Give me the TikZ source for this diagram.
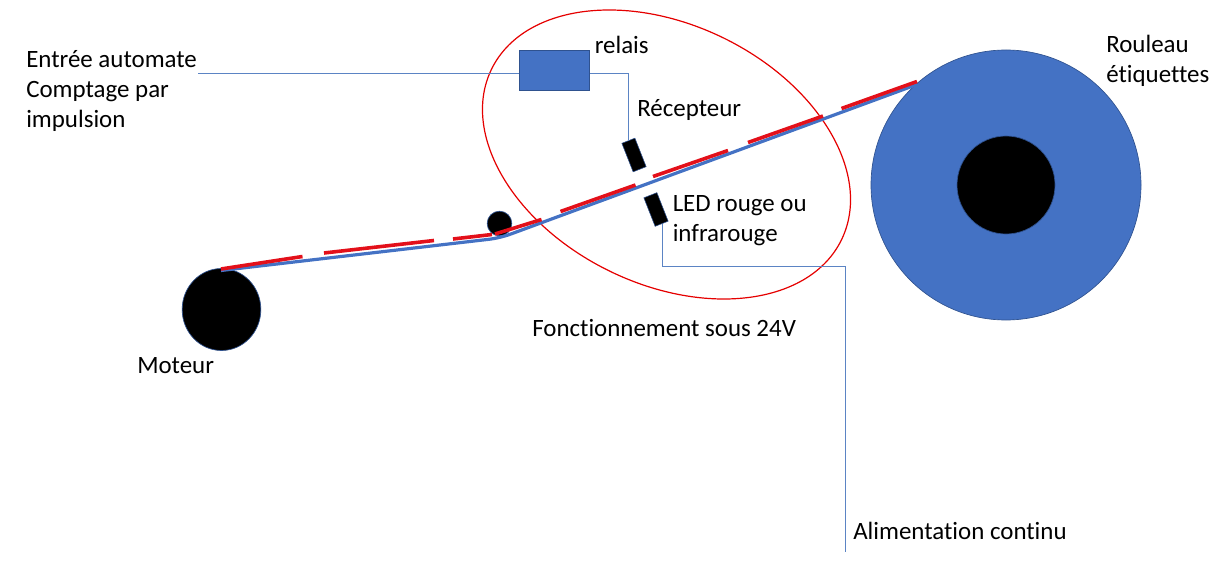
\documentclass[tikz,border=0pt]{standalone}
\usepackage{fontspec}
\setmainfont{Carlito}[Ligatures=NoCommon]
\usetikzlibrary{shapes.geometric}
\definecolor{fillblue}{HTML}{4472C4}
\definecolor{edgeblue}{HTML}{2F528F}
\definecolor{wireblue}{HTML}{5B84C4}
\definecolor{tapered}{HTML}{E3101A}
\tikzset{
  x=0.75pt,y=-0.75pt,
  label text/.style={inner sep=0pt,align=left,font=\fontsize{18.7}{22.5}\selectfont,text=black},
  wire/.style={draw=wireblue,line width=0.6pt},
  belt/.style={draw=fillblue,line width=2.4pt},
  tape/.style={draw=tapered,line width=2.7pt},
  disc/.style={circle,draw=edgeblue,line width=0.5pt,inner sep=0pt},
  sensor/.style={rectangle,fill=black,draw=edgeblue,line width=0.4pt,inner sep=0pt,minimum width=23pt,minimum height=10.5pt,rotate=-68.5},
}
\begin{document}
\begin{tikzpicture}
\useasboundingbox (0,0) rectangle (1231,570);
% zone
\node[ellipse,draw=red!90!black,line width=0.9pt,minimum width=292pt,minimum height=194.6pt,inner sep=0pt,rotate=-26] (zone) at (666.5,154.5) {};
% roll and motor
\node[disc,fill=fillblue,minimum size=202.5pt] (roll) at (1006,185) {};
\node[disc,fill=black,minimum size=73.5pt] (hub) at (1006,185) {};
\node[ellipse,draw=edgeblue,line width=0.5pt,fill=black,inner sep=0pt,minimum width=59pt,minimum height=61.5pt] (motor) at (221.5,309.5) {};
\node[disc,fill=black,minimum size=18.5pt] (idler) at (499.5,223.5) {};
% belt
\coordinate (bM) at (221,270.5);
\coordinate (bK) at (500,238);
\coordinate (bR) at (917,84.5);
\draw[belt,rounded corners=8pt] (bM) -- (bK) -- (bR);
% tape pieces
\coordinate (t1a) at (221,269); \coordinate (t1b) at (302.5,256.5);
\coordinate (t2a) at (324,253); \coordinate (t2b) at (434,240.5);
\coordinate (t3a) at (453,239); \coordinate (t3b) at (492,234.5);
\coordinate (t4a) at (495,234); \coordinate (t4b) at (541.5,219.5);
\coordinate (t5a) at (560.5,211.5); \coordinate (t5b) at (635.5,185);
\coordinate (t6a) at (653,176.5); \coordinate (t6b) at (728,150.5);
\coordinate (t7a) at (748,142.5); \coordinate (t7b) at (823,116);
\coordinate (t8a) at (841.5,108.5); \coordinate (t8b) at (917,81.5);
\draw[tape] (t1a) -- (t1b);
\draw[tape] (t2a) -- (t2b);
\draw[tape] (t3a) -- (t3b);
\draw[tape] (t4a) -- (t4b);
\draw[tape] (t5a) -- (t5b);
\draw[tape] (t6a) -- (t6b);
\draw[tape] (t7a) -- (t7b);
\draw[tape] (t8a) -- (t8b);
% relay and sensors
\node[rectangle,fill=fillblue,draw=edgeblue,line width=0.6pt,minimum width=53pt,minimum height=30.5pt,inner sep=0pt] (relay) at (554.5,70.5) {};
\node[sensor] (rx) at (634,155) {};
\node[sensor] (tx) at (656,209.5) {};
% wires
\coordinate (plc) at (198,73);
\coordinate (rxin) at (628,141);
\coordinate (txout) at (662.5,224);
\coordinate (psu) at (845.8,552);
\draw[wire] (plc) -- (plc -| relay.west);
\draw[wire] (plc -| relay.east) -| (rxin);
\draw[wire] (txout) |- (845.8,266) -- (psu);
% labels
\node[label text,anchor=base west] (lauto) at (26,128) {Entrée automate\\Comptage par\\impulsion};
\node[label text,anchor=base west] (lrelais) at (594.5,54) {relais};
\node[label text,anchor=base west] (lrec) at (637,116.5) {Récepteur};
\node[label text,anchor=base west] (lled) at (672.5,241.5) {LED rouge ou\\infrarouge};
\node[label text,anchor=base west] (lroll) at (1106,83) {Rouleau\\étiquettes};
\node[label text,anchor=base west] (lfonc) at (532,336.5) {Fonctionnement sous 24V};
\node[label text,anchor=base west] (lmot) at (137,373) {Moteur};
\node[label text,anchor=base west] (lali) at (853,539) {Alimentation continu};
\end{tikzpicture}
\end{document}
